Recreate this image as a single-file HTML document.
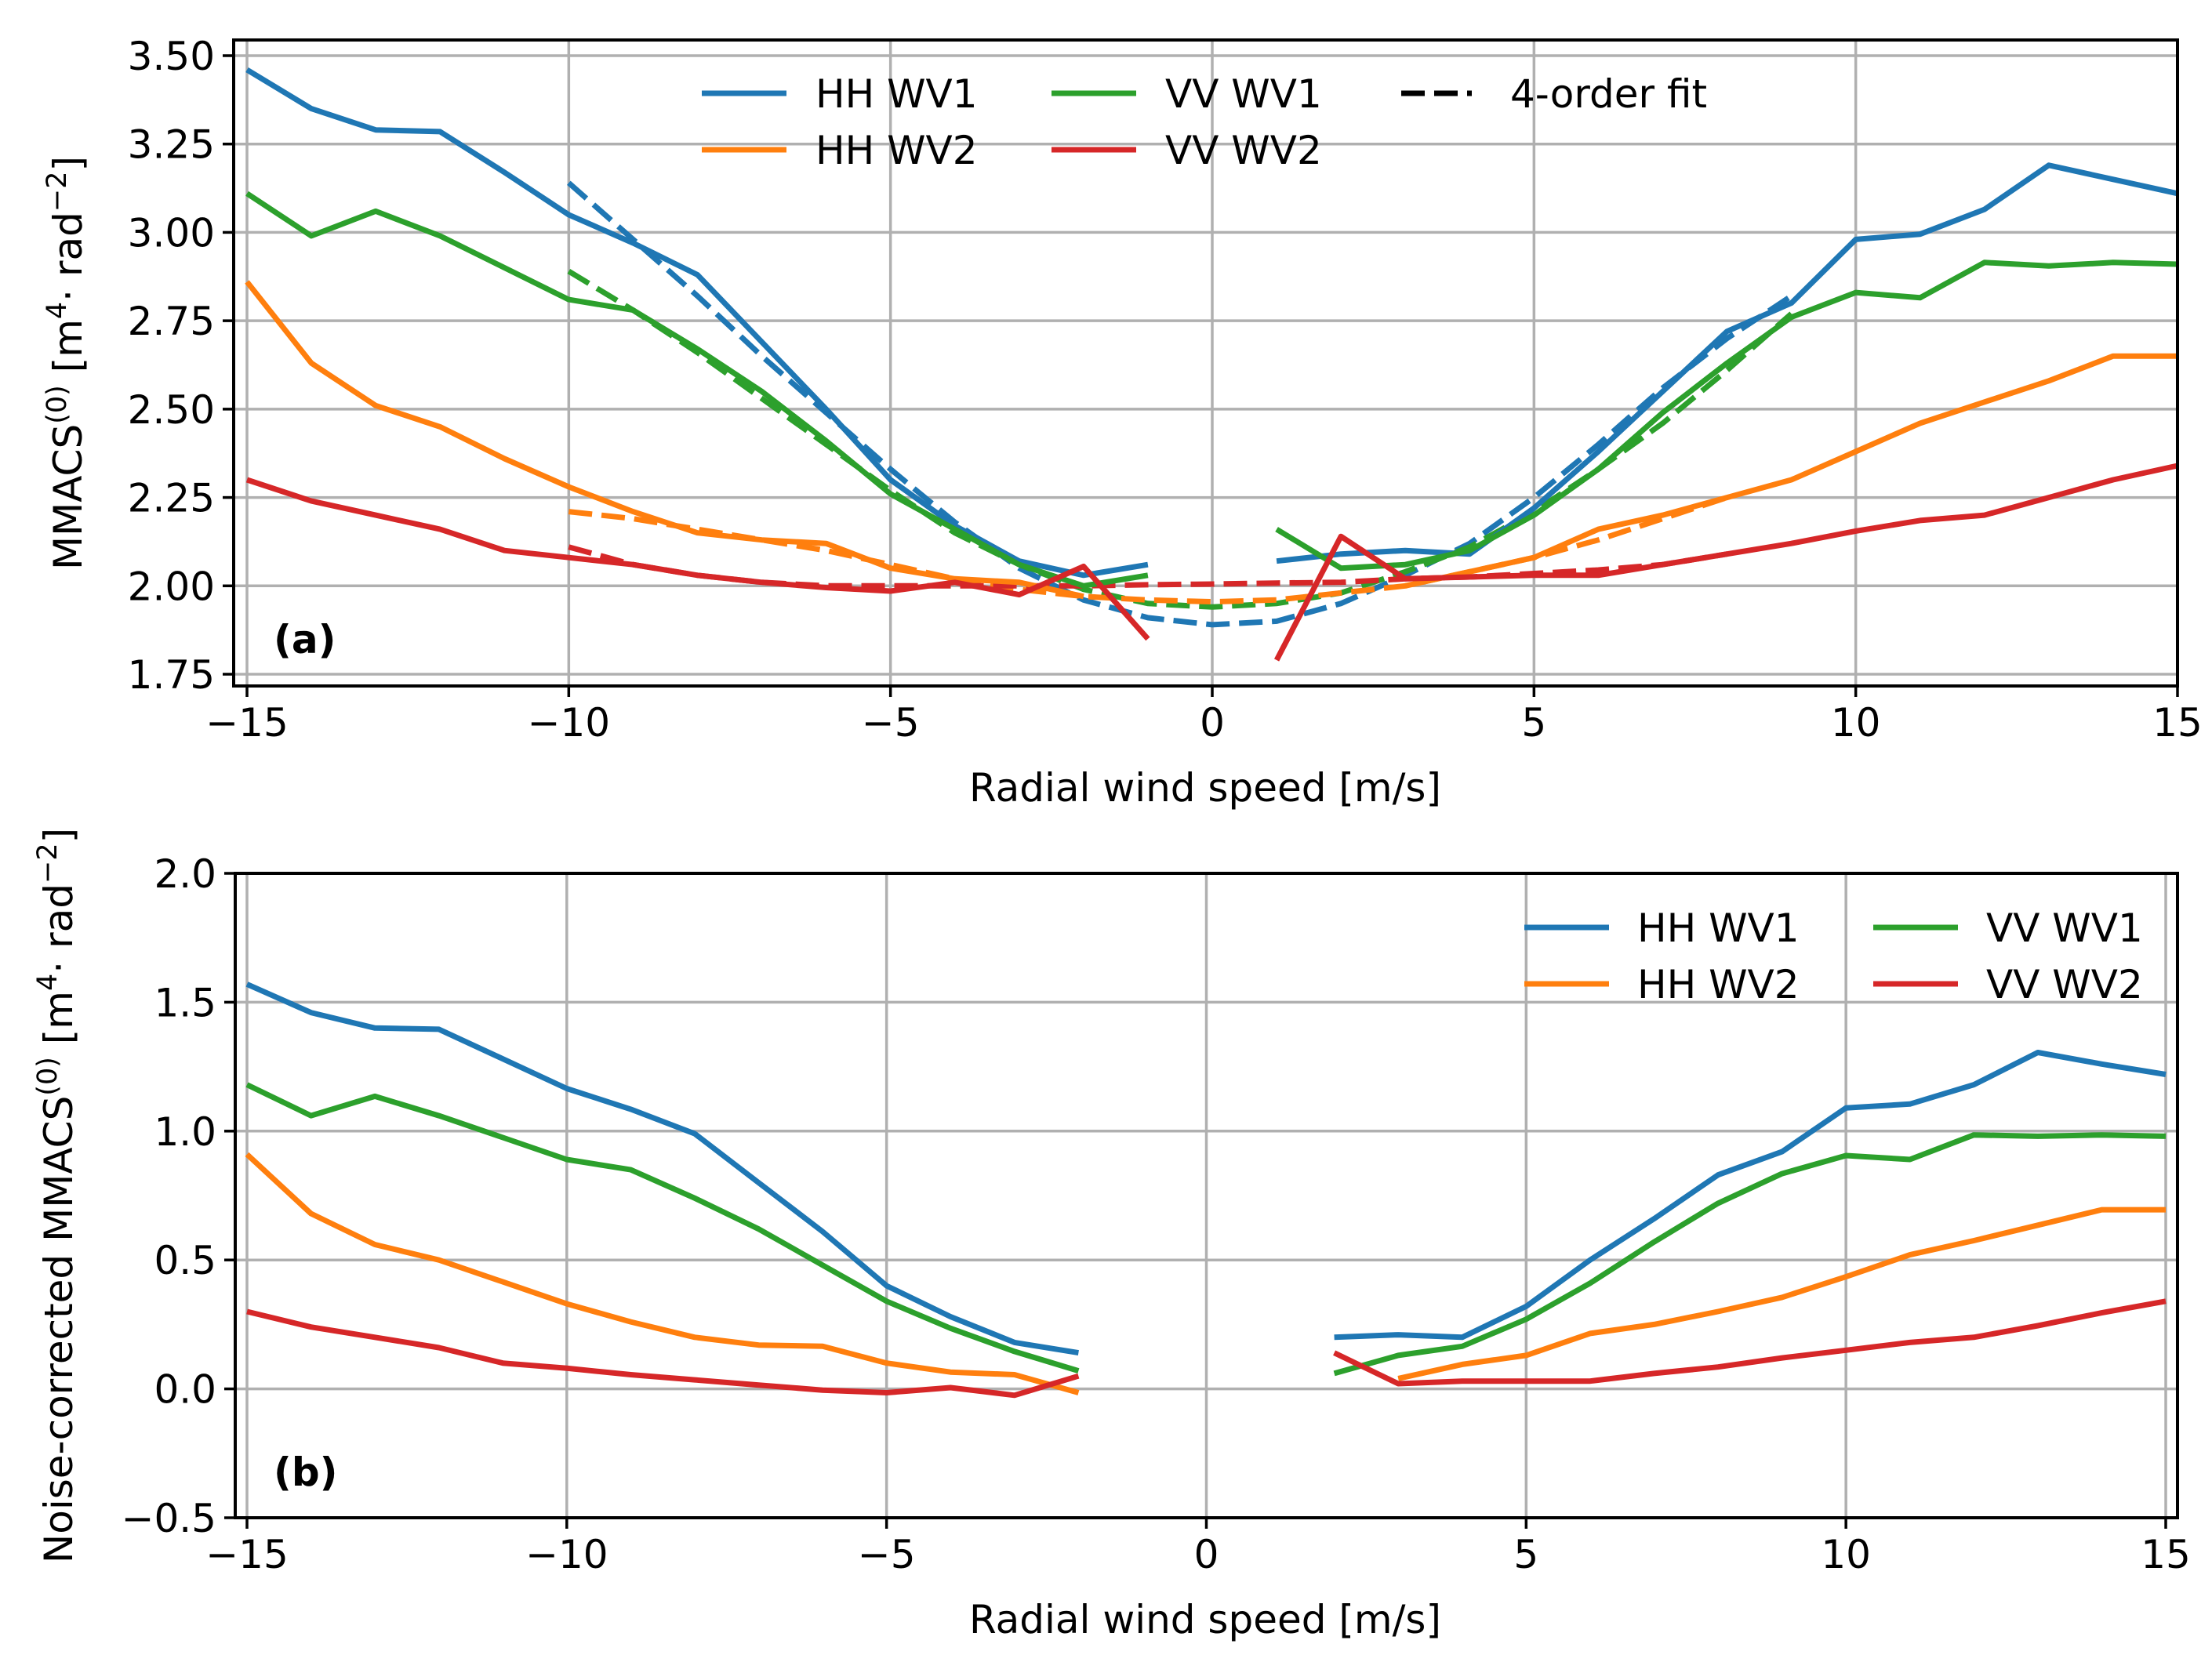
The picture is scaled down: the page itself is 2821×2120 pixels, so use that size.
<!DOCTYPE html>
<html><head><meta charset="utf-8"><style>
html,body{margin:0;padding:0;background:#fff;}
svg{display:block;font-family:"DejaVu Sans","Liberation Sans",sans-serif;}
</style></head><body>
<svg id="fig" width="2821" height="2120" viewBox="0 0 2821 2120" xmlns="http://www.w3.org/2000/svg"></svg>
<script>
const xsLeftA=[-15,-14,-13,-12,-11,-10,-9,-8,-7,-6,-5,-4,-3,-2,-1];
const xsRightA=[1,2,3,4,5,6,7,8,9,10,11,12,13,14,15];
const hhWv1A=[3.46,3.35,3.29,3.285,3.17,3.05,2.97,2.88,2.69,2.50,2.30,2.17,2.07,2.03,2.06, 2.07,2.09,2.10,2.09,2.22,2.38,2.55,2.72,2.80,2.98,2.995,3.065,3.19,3.15,3.11];
const vvWv1A=[3.11,2.99,3.06,2.99,2.90,2.81,2.78,2.67,2.55,2.41,2.26,2.16,2.06,2.00,2.03, 2.16,2.05,2.06,2.10,2.20,2.33,2.49,2.63,2.76,2.83,2.815,2.915,2.905,2.915,2.91];
const hhWv2A=[2.86,2.63,2.51,2.45,2.36,2.28,2.21,2.15,2.13,2.12,2.05,2.02,2.01,1.97,null, null,null,2.00,2.04,2.08,2.16,2.20,2.25,2.30,2.38,2.46,2.52,2.58,2.65,2.65];
const vvWv2A=[2.30,2.24,2.20,2.16,2.10,2.08,2.06,2.03,2.01,1.995,1.985,2.01,1.975,2.055,1.85, 1.79,2.14,2.02,2.025,2.03,2.03,2.06,2.09,2.12,2.155,2.185,2.20,2.25,2.30,2.34];
const fitX=[-10,-9,-8,-7,-6,-5,-4,-3,-2,-1,0,1,2,3,4,5,6,7,8,9];
const fitHhWv1=[3.14,2.98,2.82,2.65,2.49,2.33,2.18,2.05,1.96,1.91,1.89,1.90,1.95,2.03,2.12,2.25,2.40,2.56,2.70,2.82];
const fitVvWv1=[2.89,2.78,2.66,2.53,2.40,2.27,2.15,2.06,1.99,1.95,1.94,1.95,1.98,2.04,2.11,2.21,2.33,2.46,2.61,2.77];
const fitHhWv2=[2.21,2.19,2.16,2.13,2.10,2.06,2.02,1.99,1.97,1.96,1.955,1.96,1.98,2.00,2.04,2.08,2.13,2.19,2.25,null];
const fitVvWv2=[2.11,2.06,2.03,2.01,2.00,2.00,2.00,2.00,2.00,2.003,2.005,2.008,2.01,2.02,2.025,2.035,2.045,2.06,2.09,null];
const xsB=[-15,-14,-13,-12,-11,-10,-9,-8,-7,-6,-5,-4,-3,-2, 2,3,4,5,6,7,8,9,10,11,12,13,14,15];
const hhWv1B=[1.57,1.46,1.40,1.395,1.28,1.165,1.085,0.99,0.80,0.61,0.40,0.28,0.18,0.14, 0.20,0.21,0.20,0.32,0.50,0.66,0.83,0.92,1.09,1.105,1.18,1.305,1.26,1.22];
const vvWv1B=[1.18,1.06,1.135,1.06,0.975,0.89,0.85,0.74,0.62,0.48,0.34,0.235,0.145,0.07, 0.06,0.13,0.165,0.27,0.41,0.57,0.72,0.835,0.905,0.89,0.985,0.98,0.985,0.98];
const hhWv2B=[0.91,0.68,0.56,0.50,0.415,0.33,0.26,0.20,0.17,0.165,0.10,0.065,0.055,-0.015, null,0.04,0.095,0.13,0.215,0.25,0.30,0.355,0.435,0.52,0.575,0.635,0.695,0.695];
const vvWv2B=[0.30,0.24,0.20,0.16,0.10,0.08,0.055,0.035,0.015,-0.005,-0.015,0.005,-0.025,0.05, 0.14,0.02,0.03,0.03,0.03,0.06,0.085,0.12,0.15,0.18,0.20,0.245,0.295,0.34];
const xTicks=[-15,-10,-5,0,5,10,15];
const xTickLabels=["\u221215","\u221210","\u22125","0","5","10","15"];
const yTicksA=[1.75,2.00,2.25,2.50,2.75,3.00,3.25,3.50];
const yTickLabelsA=["1.75","2.00","2.25","2.50","2.75","3.00","3.25","3.50"];
const yTicksB=[-0.5,0.0,0.5,1.0,1.5,2.0];
const yTickLabelsB=["\u22120.5","0.0","0.5","1.0","1.5","2.0"];

const C={blue:"#1f77b4",orange:"#ff7f0e",green:"#2ca02c",red:"#d62728"};
const FS=50, LW=7, DASH="30 12";
const NS="http://www.w3.org/2000/svg";
const svg=document.getElementById("fig");
function mk(tag,attrs,parent){const e=document.createElementNS(NS,tag);for(const k in attrs)e.setAttribute(k,attrs[k]);(parent||svg).appendChild(e);return e;}

const A={l:298,r:2777,t:51,b:875,x:v=>315+(v+15)*(2777-315)/30,y:v=>71+(3.5-v)*(860-71)/1.75};
const B={l:300,r:2777,t:1114,b:1936,x:v=>315+(v+15)*(2762-315)/30,y:v=>1114+(2.0-v)*(1936-1114)/2.5};

function axes(P,yt,name){
  const g=mk("g",{});
  
  
  for(const v of xTicks){const l=mk("line",{x1:P.x(v),x2:P.x(v),y1:P.t,y2:P.b,stroke:"#b0b0b0","stroke-width":3.5},g);
    }
  for(const v of yt){const l=mk("line",{x1:P.l,x2:P.r,y1:P.y(v),y2:P.y(v),stroke:"#b0b0b0","stroke-width":3.5},g);
    }
}
function frame(P,yt,ytl,name){
  const g=mk("g",{});
  
  
  mk("rect",{x:P.l,y:P.t,width:P.r-P.l,height:P.b-P.t,fill:"none",stroke:"#000","stroke-width":4},g);
  xTicks.forEach((v,i)=>{
    mk("line",{x1:P.x(v),x2:P.x(v),y1:P.b,y2:P.b+14,stroke:"#000","stroke-width":3.5},g);
    const t=mk("text",{x:P.x(v),y:P.b+64,"text-anchor":"middle","font-size":FS},g);t.textContent=xTickLabels[i];
    
  });
  yt.forEach((v,i)=>{
    mk("line",{x1:P.l-14,x2:P.l,y1:P.y(v),y2:P.y(v),stroke:"#000","stroke-width":3.5},g);
    const t=mk("text",{x:P.l-24,y:P.y(v)+18,"text-anchor":"end","font-size":FS},g);t.textContent=ytl[i];
    
  });
}
function series(P,xs,ys,color,name){
  let d="",pen=false;
  xs.forEach((x,i)=>{const v=ys[i];if(v===null||v===undefined){pen=false;return;}
    if(i>0&&pen&&Math.abs(xs[i]-xs[i-1])>1.5)pen=false;
    d+=(pen?"L":"M")+P.x(x).toFixed(1)+" "+P.y(v).toFixed(1)+" ";pen=true;});
  const p=mk("path",{d:d,fill:"none",stroke:color,"stroke-width":LW,"stroke-linejoin":"round"});
  
  
}
function fitSeries(P,xs,ys,color,name){
  let d="",pen=false;
  xs.forEach((x,i)=>{const v=ys[i];if(v===null){pen=false;return;}
    d+=(pen?"L":"M")+P.x(x).toFixed(1)+" "+P.y(v).toFixed(1)+" ";pen=true;});
  const p=mk("path",{d:d,fill:"none",stroke:color,"stroke-width":LW,"stroke-dasharray":DASH});
  
  
}
function text(x,y,s,size,name,extra){const t=mk("text",Object.assign({x:x,y:y,"font-size":size},extra||{}));t.textContent=s;
  return t;}
function ylabel(x,y,prefix,name){const t=mk("text",{transform:"translate("+x+","+y+") rotate(-90)","text-anchor":"middle","font-size":FS});
  t.innerHTML=prefix+'MMACS<tspan dy="-20" font-size="35">(0)</tspan><tspan dy="20"> [m</tspan><tspan dy="-20" font-size="35">4</tspan><tspan dy="20">\u00b7 rad</tspan><tspan dy="-20" font-size="35">\u22122</tspan><tspan dy="20">]</tspan>';
  }

// ---- Panel A ----
axes(A,yTicksA,"panel-a");
const xsA=xsLeftA.concat(xsRightA);
fitSeries(A,fitX,fitHhWv1,C.blue,"fit-hh-wv1");
fitSeries(A,fitX,fitVvWv1,C.green,"fit-vv-wv1");
fitSeries(A,fitX,fitHhWv2,C.orange,"fit-hh-wv2");
fitSeries(A,fitX,fitVvWv2,C.red,"fit-vv-wv2");
series(A,xsA,hhWv1A,C.blue,"line-hh-wv1-a");
series(A,xsA,hhWv2A,C.orange,"line-hh-wv2-a");
series(A,xsA,vvWv1A,C.green,"line-vv-wv1-a");
series(A,xsA,vvWv2A,C.red,"line-vv-wv2-a");
frame(A,yTicksA,yTickLabelsA,"panel-a");
text(349,833,"(a)",FS,"panel-a-label",{"font-weight":"bold"});
text(1537,1022,"Radial wind speed [m/s]",FS,"x-axis-title-a",{"text-anchor":"middle"});
ylabel(104,463,"","y-axis-title-a");
[[895,119,C.blue,false,"HH WV1"],[895,191,C.orange,false,"HH WV2"],[1341,119,C.green,false,"VV WV1"],[1341,191,C.red,false,"VV WV2"],[1787,119,"#000",true,"4-order fit"]].forEach(e=>{
  const g=mk("g",{});
  const l=mk("line",{x1:e[0],x2:e[0]+(e[3]?90:108),y1:e[1],y2:e[1],stroke:e[2],"stroke-width":LW},g);
  if(e[3])l.setAttribute("stroke-dasharray",DASH);
  const t=mk("text",{x:e[0]+(e[3]?139:145),y:e[1]+18,"font-size":FS},g);t.textContent=e[4];
});

// ---- Panel B ----
axes(B,yTicksB,"panel-b");
series(B,xsB,hhWv1B,C.blue,"line-hh-wv1-b");
series(B,xsB,hhWv2B,C.orange,"line-hh-wv2-b");
series(B,xsB,vvWv1B,C.green,"line-vv-wv1-b");
series(B,xsB,vvWv2B,C.red,"line-vv-wv2-b");
frame(B,yTicksB,yTickLabelsB,"panel-b");
text(349,1895,"(b)",FS,"panel-b-label",{"font-weight":"bold"});
text(1537,2083,"Radial wind speed [m/s]",FS,"x-axis-title-b",{"text-anchor":"middle"});
ylabel(92,1525,"Noise-corrected ","y-axis-title-b");
[[1944,1183,C.blue,"HH WV1"],[1944,1255,C.orange,"HH WV2"],[2389,1183,C.green,"VV WV1"],[2389,1255,C.red,"VV WV2"]].forEach(e=>{
  const g=mk("g",{});
  mk("line",{x1:e[0],x2:e[0]+108,y1:e[1],y2:e[1],stroke:e[2],"stroke-width":LW},g);
  const t=mk("text",{x:e[0]+144,y:e[1]+18,"font-size":FS},g);t.textContent=e[3];
});
</script>
</body></html>
